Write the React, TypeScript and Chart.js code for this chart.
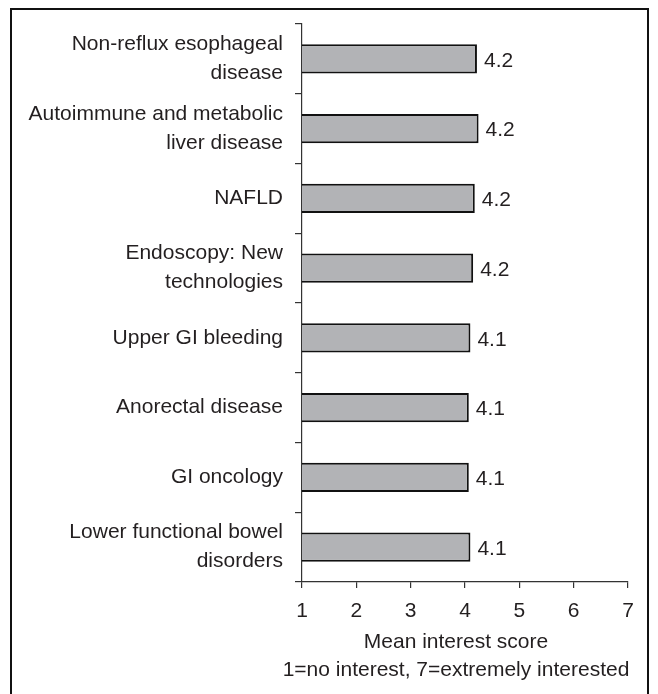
import React, { useEffect, useRef } from "react";
import { Chart, registerables } from "chart.js";

Chart.register(...registerables);

const categories: string[][] = [
  ["Non-reflux esophageal", "disease"],
  ["Autoimmune and metabolic", "liver disease"],
  ["NAFLD"],
  ["Endoscopy: New", "technologies"],
  ["Upper GI bleeding"],
  ["Anorectal disease"],
  ["GI oncology"],
  ["Lower functional bowel", "disorders"],
];
const meanScores: number[] = [4.22, 4.25, 4.18, 4.15, 4.1, 4.07, 4.07, 4.1];
const valueLabels: string[] = ["4.2", "4.2", "4.2", "4.2", "4.1", "4.1", "4.1", "4.1"];
const xTicks: number[] = [1, 2, 3, 4, 5, 6, 7];
const axisTitleLines: string[] = ["Mean interest score", "1=no interest, 7=extremely interested"];

const FONT = "'Liberation Sans', Arial, Helvetica, sans-serif";
const TEXT = "#231f20";

const valueLabelPlugin = {
  id: "valueLabels",
  afterDatasetsDraw(chart: any) {
    const ctx = chart.ctx;
    const meta = chart.getDatasetMeta(0);
    ctx.save();
    ctx.font = `21px ${FONT}`;
    ctx.fillStyle = TEXT;
    ctx.textAlign = "left";
    ctx.textBaseline = "middle";
    meta.data.forEach((el: any, i: number) => {
      ctx.fillText(valueLabels[i], el.x + 7, el.y + 2);
    });
    ctx.restore();
  },
};

const axisTitlePlugin = {
  id: "axisTitleLines",
  afterDraw(chart: any) {
    const ctx = chart.ctx;
    const area = chart.chartArea;
    const cx = (area.left + area.right) / 2 - 9;
    ctx.save();
    ctx.font = `21px ${FONT}`;
    ctx.fillStyle = TEXT;
    ctx.textAlign = "center";
    ctx.textBaseline = "middle";
    ctx.fillText(axisTitleLines[0], cx, area.bottom + 60);
    ctx.fillText(axisTitleLines[1], cx, area.bottom + 88);
    ctx.restore();
  },
};

export default function App() {
  const ref = useRef<HTMLCanvasElement | null>(null);

  useEffect(() => {
    if (!ref.current) return;
    const chart = new Chart(ref.current, {
      type: "bar",
      data: {
        labels: categories,
        datasets: [
          {
            data: meanScores,
            backgroundColor: "#b2b3b6",
            borderColor: "#111111",
            borderWidth: 2,
            borderSkipped: false,
            categoryPercentage: 1,
            barPercentage: 0.42,
          },
        ],
      },
      options: {
        indexAxis: "y",
        animation: false,
        responsive: false,
        devicePixelRatio: 1,
        layout: { padding: { top: 24, right: 30, bottom: 0, left: 0 } },
        plugins: {
          legend: { display: false },
          tooltip: { enabled: false },
          title: { display: false },
        },
        scales: {
          x: {
            type: "linear",
            min: xTicks[0],
            max: xTicks[xTicks.length - 1],
            afterBuildTicks: (scale: any) => {
              scale.ticks = xTicks.map((v) => ({ value: v }));
            },
            grid: {
              display: true,
              drawOnChartArea: false,
              drawTicks: true,
              tickLength: 6,
              color: "#333",
              lineWidth: 1.2,
            },
            border: { display: true, color: "#333", width: 1.2 },
            ticks: {
              color: TEXT,
              font: { family: FONT, size: 21 },
              padding: 11,
              maxRotation: 0,
            },
            afterFit: (scale: any) => {
              scale.height = 112;
              scale.paddingLeft = 0;
              scale.paddingRight = 0;
            },
          },
          y: {
            type: "category",
            grid: {
              display: true,
              drawOnChartArea: false,
              drawTicks: true,
              tickLength: 7,
              offset: true,
              color: "#333",
              lineWidth: 1.2,
            },
            border: { display: true, color: "#333", width: 1.2 },
            ticks: {
              color: TEXT,
              font: { family: FONT, size: 21, lineHeight: 1.38 },
              padding: 12,
              autoSkip: false,
            },
            afterFit: (scale: any) => {
              scale.width = 302;
              scale.paddingTop = 0;
              scale.paddingBottom = 0;
            },
          },
        },
      },
      plugins: [valueLabelPlugin, axisTitlePlugin],
    });
    return () => chart.destroy();
  }, []);

  return (
    <div
      style={{
        position: "fixed",
        left: 0,
        top: 0,
        width: 658,
        height: 694,
        overflow: "hidden",
        background: "#fff",
      }}
    >
      <div
        style={{
          position: "absolute",
          left: 10,
          top: 8,
          width: 639,
          height: 720,
          border: "2px solid #111",
          boxSizing: "border-box",
        }}
      />
      <canvas
        ref={ref}
        width={658}
        height={694}
        style={{ position: "absolute", left: 0, top: 0, width: 658, height: 694 }}
      />
    </div>
  );
}
